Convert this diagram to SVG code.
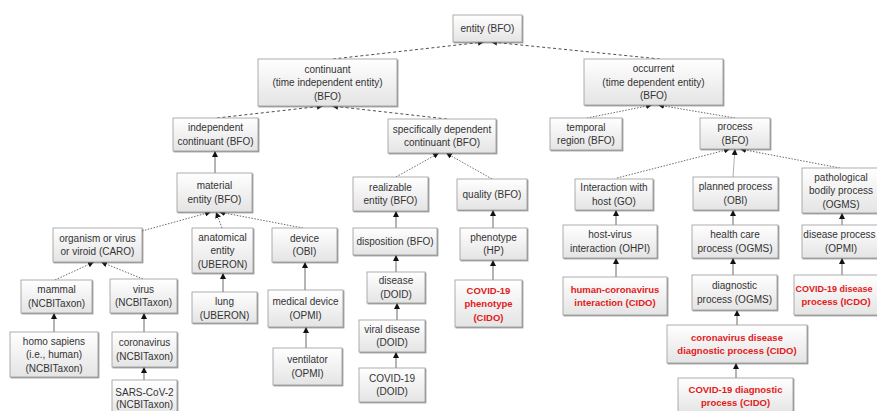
<svg xmlns="http://www.w3.org/2000/svg" width="877" height="411" viewBox="0 0 877 411">
<defs>
<linearGradient id="g" x1="0" y1="0" x2="0" y2="1"><stop offset="0" stop-color="#ffffff"/><stop offset="1" stop-color="#e4e4e4"/></linearGradient>
<filter id="sh" x="-10%" y="-10%" width="130%" height="140%"><feDropShadow dx="1" dy="1" stdDeviation="0.6" flood-color="#555" flood-opacity="0.6"/></filter>
<marker id="ar" viewBox="0 0 6 6" refX="6" refY="3" markerWidth="6" markerHeight="6" markerUnits="userSpaceOnUse" orient="auto"><path d="M0,0 L6,3 L0,6 z" fill="#111"/></marker>
</defs>
<style>
rect{fill:url(#g);stroke:#9a9a9a;stroke-width:0.8;filter:url(#sh)}
text{font-family:"Liberation Sans",Arial,sans-serif;font-size:10px;fill:#333;text-anchor:middle}
text.r{fill:#e21a1a;font-weight:bold;font-size:9.5px}
.c line{stroke:#222;stroke-width:0.8;marker-end:url(#ar);fill:none}
.c .d{stroke-dasharray:3 2.5}
.c .t{stroke-dasharray:1.5 1.5;stroke:#444}
.c .s{stroke:#444}
</style>
<rect x="0" y="0" width="877" height="411" style="fill:#fff;stroke:none;filter:none"/>
<g class="c" id="connectors">
<line class="d" x1="333" y1="59" x2="484" y2="42"/>
<line class="d" x1="660" y1="59" x2="491" y2="42"/>
<line class="d" x1="217" y1="118" x2="323" y2="106"/>
<line class="d" x1="447" y1="119" x2="332" y2="106"/>
<line class="t" x1="587" y1="118" x2="652" y2="105"/>
<line class="t" x1="735" y1="118" x2="658" y2="105"/>
<line class="t" x1="142" y1="231" x2="211" y2="212"/>
<line class="t" x1="222" y1="228" x2="216" y2="212"/>
<line class="t" x1="303" y1="228" x2="219" y2="212"/>
<line class="t" x1="55" y1="280" x2="94" y2="262"/>
<line class="t" x1="143" y1="279" x2="101" y2="262"/>
<line class="t" x1="396" y1="177" x2="439" y2="153"/>
<line class="t" x1="492" y1="179" x2="446" y2="153"/>
<line class="t" x1="617" y1="178" x2="730" y2="149"/>
<line class="t" x1="840" y1="168" x2="740" y2="149"/>
<line class="s" x1="733" y1="177" x2="735" y2="149" style="stroke:#999"/>
<line class="s" x1="215" y1="173" x2="215" y2="151"/>
<line class="s" x1="54" y1="332" x2="54" y2="313"/>
<line class="s" x1="144" y1="332" x2="144" y2="313"/>
<line class="s" x1="144" y1="380" x2="144" y2="367"/>
<line class="s" x1="223" y1="292" x2="223" y2="273"/>
<line class="s" x1="305" y1="290" x2="305" y2="262"/>
<line class="s" x1="306" y1="348" x2="306" y2="327"/>
<line class="s" x1="396" y1="228" x2="396" y2="211"/>
<line class="s" x1="396" y1="272" x2="396" y2="255"/>
<line class="s" x1="397" y1="320" x2="397" y2="303"/>
<line class="s" x1="396" y1="368" x2="396" y2="352"/>
<line class="s" x1="493" y1="228" x2="493" y2="210"/>
<line class="s" x1="493" y1="280" x2="493" y2="260"/>
<line class="s" x1="616" y1="225" x2="616" y2="210"/>
<line class="s" x1="733" y1="225" x2="733" y2="210"/>
<line class="s" x1="842" y1="225" x2="842" y2="213"/>
<line class="s" x1="616" y1="277" x2="616" y2="258"/>
<line class="s" x1="733" y1="275" x2="733" y2="258"/>
<line class="s" x1="842" y1="275" x2="842" y2="258"/>
<line class="s" x1="737" y1="325" x2="737" y2="310"/>
<line class="s" x1="736" y1="378" x2="736" y2="363"/>
</g>
<g id="entity"><rect x="453" y="15" width="69" height="27"/><text x="487.5" y="32">entity (BFO)</text></g>
<g id="continuant"><rect x="258" y="59" width="139" height="47"/><text x="327.5" y="72.5">continuant</text><text x="327.5" y="86">(time independent entity)</text><text x="327.5" y="99.5">(BFO)</text></g>
<g id="occurrent"><rect x="584" y="59" width="139" height="46"/><text x="653.5" y="72">occurrent</text><text x="653.5" y="85.5">(time dependent entity)</text><text x="653.5" y="99">(BFO)</text></g>
<g id="independent"><rect x="173" y="118" width="85" height="33"/><text x="215.5" y="131.25">independent</text><text x="215.5" y="144.75">continuant (BFO)</text></g>
<g id="specdep"><rect x="388" y="119" width="108" height="34"/><text x="442" y="132.75">specifically dependent</text><text x="442" y="146.25">continuant (BFO)</text></g>
<g id="temporal"><rect x="550" y="118" width="72" height="32"/><text x="586" y="130.75">temporal</text><text x="586" y="144.25">region (BFO)</text></g>
<g id="process"><rect x="700" y="118" width="70" height="31"/><text x="735" y="130.25">process</text><text x="735" y="143.75">(BFO)</text></g>
<g id="material"><rect x="177" y="173" width="75" height="39"/><text x="214.5" y="189.25">material</text><text x="214.5" y="202.75">entity (BFO)</text></g>
<g id="organism"><rect x="53" y="228" width="89" height="34"/><text x="97.5" y="241.75">organism or virus</text><text x="97.5" y="255.25">or viroid (CARO)</text></g>
<g id="anatomical"><rect x="192" y="228" width="61" height="45"/><text x="222.5" y="240.5">anatomical</text><text x="222.5" y="254">entity</text><text x="222.5" y="267.5">(UBERON)</text></g>
<g id="device"><rect x="272" y="228" width="65" height="34"/><text x="304.5" y="241.75">device</text><text x="304.5" y="255.25">(OBI)</text></g>
<g id="realizable"><rect x="353" y="177" width="75" height="34"/><text x="390.5" y="190.75">realizable</text><text x="390.5" y="204.25">entity (BFO)</text></g>
<g id="quality"><rect x="457" y="179" width="70" height="31"/><text x="492" y="198">quality (BFO)</text></g>
<g id="disposition"><rect x="353" y="228" width="84" height="27"/><text x="395" y="245">disposition (BFO)</text></g>
<g id="phenotype"><rect x="460" y="228" width="67" height="32"/><text x="493.5" y="240.75">phenotype</text><text x="493.5" y="254.25">(HP)</text></g>
<g id="interaction"><rect x="575" y="179" width="78" height="31"/><text x="614" y="191.25">Interaction with</text><text x="614" y="204.75">host (GO)</text></g>
<g id="planned"><rect x="693" y="177" width="85" height="33"/><text x="735.5" y="190.25">planned process</text><text x="735.5" y="203.75">(OBI)</text></g>
<g id="pathological"><rect x="802" y="168" width="80" height="45"/><text x="841" y="180.5">pathological</text><text x="841" y="194">bodily process</text><text x="841" y="207.5">(OGMS)</text></g>
<g id="hostvirus"><rect x="563" y="225" width="94" height="33"/><text x="610" y="238.25">host-virus</text><text x="610" y="251.75">interaction (OHPI)</text></g>
<g id="healthcare"><rect x="692" y="225" width="86" height="33"/><text x="735" y="238.25">health care</text><text x="735" y="251.75">process (OGMS)</text></g>
<g id="diseaseprocess"><rect x="802" y="225" width="80" height="33"/><text x="839.5" y="238.25">disease process</text><text x="841" y="251.75">(OPMI)</text></g>
<g id="mammal"><rect x="21" y="280" width="71" height="33"/><text x="56.5" y="293.25">mammal</text><text x="56.5" y="306.75">(NCBITaxon)</text></g>
<g id="virus"><rect x="110" y="279" width="67" height="34"/><text x="143.5" y="292.75">virus</text><text x="143.5" y="306.25">(NCBITaxon)</text></g>
<g id="homosapiens"><rect x="10" y="332" width="88" height="45"/><text x="54" y="344.5">homo sapiens</text><text x="54" y="358">(i.e., human)</text><text x="54" y="371.5">(NCBITaxon)</text></g>
<g id="coronavirus"><rect x="112" y="332" width="65" height="35"/><text x="144.5" y="346.25">coronavirus</text><text x="144.5" y="359.75">(NCBITaxon)</text></g>
<g id="sarscov2"><rect x="112" y="380" width="65" height="36"/><text x="144.5" y="395.5">SARS-CoV-2</text><text x="144.5" y="408">(NCBITaxon)</text></g>
<g id="lung"><rect x="192" y="292" width="65" height="31"/><text x="224.5" y="305">lung</text><text x="224.5" y="318.5">(UBERON)</text></g>
<g id="medicaldevice"><rect x="268" y="290" width="75" height="37"/><text x="305.5" y="305.25">medical device</text><text x="305.5" y="318.75">(OPMI)</text></g>
<g id="ventilator"><rect x="273" y="348" width="69" height="37"/><text x="307.5" y="363.25">ventilator</text><text x="307.5" y="376.75">(OPMI)</text></g>
<g id="disease"><rect x="367" y="272" width="58" height="31"/><text x="396" y="284.25">disease</text><text x="396" y="297.75">(DOID)</text></g>
<g id="viraldisease"><rect x="359" y="320" width="66" height="32"/><text x="392" y="332.75">viral disease</text><text x="392" y="346.25">(DOID)</text></g>
<g id="covid19"><rect x="359" y="368" width="66" height="34"/><text x="392" y="381.75">COVID-19</text><text x="392" y="395.25">(DOID)</text></g>
<g id="covidphenotype"><rect x="455" y="280" width="67" height="47"/><text class="r" x="488.5" y="293.5">COVID-19</text><text class="r" x="488.5" y="307">phenotype</text><text class="r" x="488.5" y="320.5">(CIDO)</text></g>
<g id="humancorona"><rect x="563" y="277" width="104" height="38"/><text class="r" x="615" y="292.75">human-coronavirus</text><text class="r" x="615" y="306.25">interaction (CIDO)</text></g>
<g id="diagnostic"><rect x="692" y="275" width="85" height="35"/><text x="734.5" y="289.25">diagnostic</text><text x="734.5" y="302.75">process (OGMS)</text></g>
<g id="coviddiseaseprocess"><rect x="794" y="275" width="87" height="40"/><text class="r" x="834" y="291.75" style="font-size:9px">COVID-19 disease</text><text class="r" x="836" y="305.25">process (ICDO)</text></g>
<g id="coronadiag"><rect x="667" y="325" width="140" height="38"/><text class="r" x="737" y="340.75">coronavirus disease</text><text class="r" x="737" y="354.25">diagnostic process (CIDO)</text></g>
<g id="coviddiag"><rect x="678" y="378" width="115" height="36"/><text class="r" x="735.5" y="392.75">COVID-19 diagnostic</text><text class="r" x="735.5" y="406.25">process (CIDO)</text></g>
</svg>
